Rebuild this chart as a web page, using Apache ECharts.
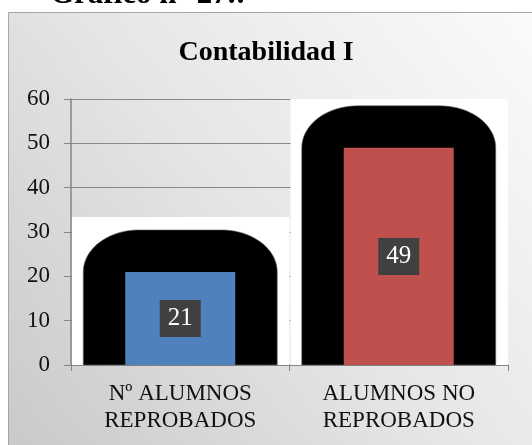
<!DOCTYPE html>
<html>
<head>
<meta charset="utf-8">
<script src="https://cdn.jsdelivr.net/npm/echarts@6/dist/echarts.min.js"></script>
<style>
  html, body { margin: 0; padding: 0; background: #ffffff; }
  #chart { width: 532px; height: 445px; }
</style>
</head>
<body>
<div id="chart"></div>
<script>
// Contabilidad I: alumnos reprobados / no reprobados
const categories = ['Nº ALUMNOS\nREPROBADOS', 'ALUMNOS NO\nREPROBADOS'];
const values = [21, 49];
const barColors = ['#4F81BD', '#C0504D'];
const yTicks = [0, 10, 20, 30, 40, 50, 60];

const serif = '"Liberation Serif", "Times New Roman", serif';

// Black rounded halo behind each bar, on a white band cell
function renderHalo(params, api) {
  const idx = api.value(0);
  const val = api.value(1);
  const cs = params.coordSys;
  const base = api.coord([idx, 0]);
  const top = api.coord([idx, val]);
  const band = api.size([1, 0])[0];
  const cx = base[0];
  const halfW = 97;
  const rx = 56, ry = 42;
  const ySide = top[1];
  const yTop = ySide - ry;
  const yBottom = base[1];
  const whiteTop = Math.max(cs.y, yTop - 13);

  const pts = [[cx - halfW, yBottom], [cx - halfW, ySide]];
  const n = 20;
  for (let i = 1; i <= n; i++) {
    const a = Math.PI / 2 * i / n;
    pts.push([cx - halfW + rx - rx * Math.cos(a), ySide - ry * Math.sin(a)]);
  }
  for (let i = 0; i <= n; i++) {
    const a = Math.PI / 2 * i / n;
    pts.push([cx + halfW - rx + rx * Math.sin(a), yTop + ry - ry * Math.cos(a)]);
  }
  pts.push([cx + halfW, yBottom]);

  return {
    type: 'group',
    children: [
      {
        type: 'rect',
        shape: { x: cx - band / 2 + 1, y: whiteTop, width: band - 1, height: yBottom - whiteTop },
        style: { fill: '#ffffff' }
      },
      {
        type: 'polygon',
        shape: { points: pts },
        style: { fill: '#000000', stroke: '#6e6e6e', lineWidth: 0.6 }
      }
    ]
  };
}

const chart = echarts.init(document.getElementById('chart'), null, { renderer: 'canvas' });

chart.setOption({
  animation: false,
  backgroundColor: '#ffffff',
  graphic: [
    {
      type: 'rect',
      z: -10,
      shape: { x: 8.5, y: 12.5, width: 530, height: 440 },
      style: {
        fill: new echarts.graphic.LinearGradient(1, 0, 0, 1, [
          { offset: 0, color: '#fbfbfb' },
          { offset: 0.5, color: '#e6e6e6' },
          { offset: 1, color: '#c9c9c9' }
        ]),
        stroke: '#a6a6a6',
        lineWidth: 1
      }
    },
    {
      type: 'text',
      left: 50,
      top: -21,
      style: {
        text: 'Gráfico n° 27.:',
        font: 'bold 31px ' + serif,
        fill: '#000000'
      }
    },
    {
      type: 'text',
      left: 'center',
      top: 39,
      style: {
        text: 'Contabilidad I',
        font: 'bold 28px ' + serif,
        fill: '#000000',
        x: 4
      }
    }
  ],
  grid: { left: 71, right: 24, top: 99, bottom: 80 },
  xAxis: {
    type: 'category',
    data: categories,
    axisLine: { lineStyle: { color: '#868686', width: 1.5 } },
    axisTick: { show: true, length: 6, lineStyle: { color: '#868686' } },
    axisLabel: {
      color: '#111111',
      fontFamily: serif,
      fontSize: 23,
      lineHeight: 27,
      margin: 15
    }
  },
  yAxis: {
    type: 'value',
    min: yTicks[0],
    max: yTicks[yTicks.length - 1],
    interval: yTicks[1] - yTicks[0],
    axisLine: { show: true, lineStyle: { color: '#868686', width: 1.5 } },
    axisTick: { show: true, length: 7, lineStyle: { color: '#868686' } },
    axisLabel: {
      color: '#111111',
      fontFamily: serif,
      fontSize: 23,
      margin: 21
    },
    splitLine: { lineStyle: { color: '#888888', width: 1.2 } }
  },
  series: [
    {
      type: 'custom',
      z: 1,
      silent: true,
      renderItem: renderHalo,
      data: values.map((v, i) => [i, v])
    },
    {
      type: 'bar',
      z: 3,
      barWidth: 110,
      data: values.map((v, i) => ({ value: v, itemStyle: { color: barColors[i] } })),
      label: {
        show: true,
        position: 'inside',
        color: '#ffffff',
        fontFamily: serif,
        fontSize: 25,
        lineHeight: 25,
        backgroundColor: '#404040',
        padding: [6, 8, 6, 8]
      }
    }
  ]
});
</script>
</body>
</html>
